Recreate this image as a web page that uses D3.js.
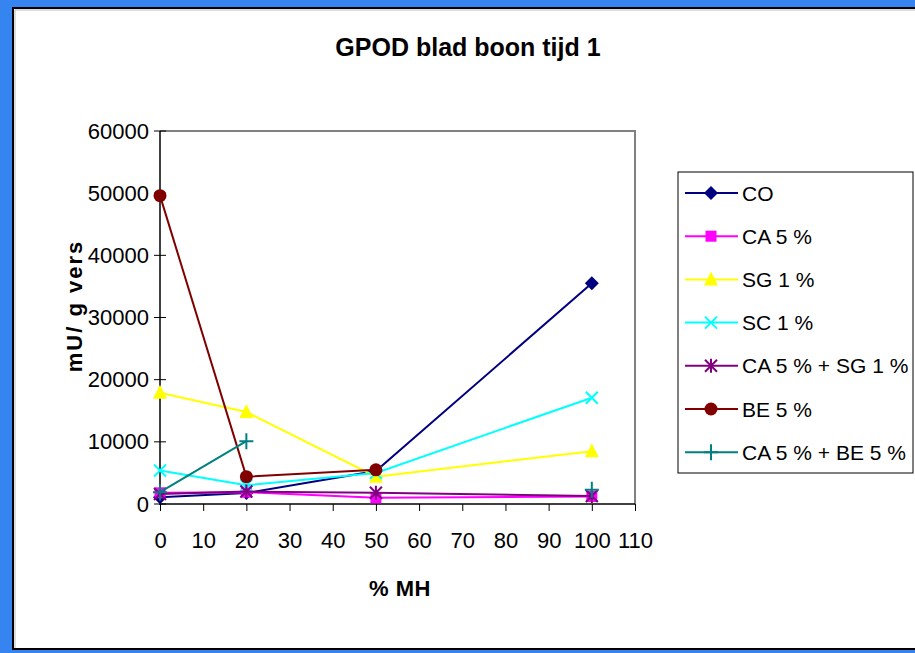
<!DOCTYPE html>
<html><head><meta charset="utf-8">
<script src="https://cdn.jsdelivr.net/npm/d3@7"></script>
<style>body{margin:0;background:#3584f0;overflow:hidden}</style>
</head><body><svg id="c" width="915" height="653"></svg>
<script>
const xValues = [0, 20, 50, 100];
const seriesNames = ["CO", "CA 5 %", "SG 1 %", "SC 1 %", "CA 5 % + SG 1 %", "BE 5 %", "CA 5 % + BE 5 %"];
const CO = [1100, 1750, 5300, 35500];
const CA5 = [1800, 1900, 1000, 1200];
const SG1 = [17900, 14800, 4400, 8500];
const SC1 = [5400, 3000, 5000, 17100];
const CA5_SG1 = [1600, 2000, 1800, 1300];
const BE5 = [49600, 4400, 5500, null];
const CA5_BE5 = [1900, 10100, null, 2300];
const seriesColors = ["#000080", "#ff00ff", "#ffff00", "#00ffff", "#800080", "#800000", "#008080"];
const seriesMarkers = ["diamond", "square", "triangle", "x", "asterisk", "circle", "plus"];
const xTicks = [0,10,20,30,40,50,60,70,80,90,100,110];
const yTicks = [0,10000,20000,30000,40000,50000,60000];
const titleText = "GPOD blad boon tijd 1";
const xTitle = "% MH";
const yTitle = "mU/ g vers";

const allValues = [CO, CA5, SG1, SC1, CA5_SG1, BE5, CA5_BE5];
const svg = d3.select("#c");
const font = "'Liberation Sans', Arial, sans-serif";

// panel
svg.append("rect").attr("x",13).attr("y",8).attr("width",920).attr("height",641)
  .attr("fill","#fff").attr("stroke","#000").attr("stroke-width",2);
svg.append("path").attr("d","M15,648 V10 H930").attr("fill","none").attr("stroke","#bbb").attr("stroke-width",1);

const x = d3.scaleLinear().domain([0,110]).range([160,635]);
const y = d3.scaleLinear().domain([0,60000]).range([504,131]);

// plot border
svg.append("path").attr("d",`M${x(0)},${y(60000)} H${x(110)} V${y(0)}`)
  .attr("fill","none").attr("stroke","#808080").attr("stroke-width",2);

// axes
const yAxis = d3.axisLeft(y).tickValues(yTicks).tickFormat(d3.format("d")).tickSize(0).tickPadding(11);
const gy = svg.append("g").attr("transform",`translate(${x(0)},0)`).call(yAxis);
gy.select(".domain").remove();
gy.selectAll("text").attr("font-family",font).attr("font-size",22).attr("fill","#000");
svg.append("g").selectAll("line").data(yTicks).join("line")
  .attr("x1",x(0)-6).attr("x2",x(0)+6).attr("y1",d=>y(d)).attr("y2",d=>y(d)).attr("stroke","#000").attr("stroke-width",1);
svg.append("line").attr("x1",x(0)).attr("x2",x(0)).attr("y1",y(60000)).attr("y2",y(0)+1).attr("stroke","#000").attr("stroke-width",1.5);

const xAxis = d3.axisBottom(x).tickValues(xTicks).tickFormat(d3.format("d")).tickSize(7).tickPadding(21);
const gx = svg.append("g").attr("transform",`translate(0,${y(0)})`).call(xAxis);
gx.select(".domain").attr("stroke","#000").attr("stroke-width",1.5).attr("d",`M${x(0)},0H${x(110)}`);
gx.selectAll(".tick line").attr("stroke","#000");
gx.selectAll("text").attr("font-family",font).attr("font-size",22).attr("fill","#000");

// titles
svg.append("text").attr("x",468).attr("y",56).attr("text-anchor","middle")
  .attr("font-family",font).attr("font-weight","bold").attr("font-size",25).text(titleText);
svg.append("text").attr("x",400).attr("y",596).attr("text-anchor","middle")
  .attr("font-family",font).attr("font-weight","bold").attr("font-size",22).attr("letter-spacing",0.5).text(xTitle);
svg.append("text").attr("transform","translate(82,306) rotate(-90)").attr("text-anchor","middle")
  .attr("font-family",font).attr("font-weight","bold").attr("font-size",22).attr("letter-spacing",2).text(yTitle);

function marker(g, type, color, cx, cy){
  const s = 6;
  if(type==="diamond") g.append("path").attr("d",`M${cx},${cy-7}L${cx+7},${cy}L${cx},${cy+7}L${cx-7},${cy}Z`).attr("fill",color);
  else if(type==="square") g.append("rect").attr("x",cx-5.5).attr("y",cy-5.5).attr("width",11).attr("height",11).attr("fill",color);
  else if(type==="triangle") g.append("path").attr("d",`M${cx},${cy-8}L${cx+7},${cy+6}L${cx-7},${cy+6}Z`).attr("fill",color);
  else if(type==="circle") g.append("circle").attr("cx",cx).attr("cy",cy).attr("r",6.5).attr("fill",color);
  else if(type==="x") g.append("path").attr("d",`M${cx-s},${cy-s}L${cx+s},${cy+s}M${cx-s},${cy+s}L${cx+s},${cy-s}`).attr("stroke",color).attr("stroke-width",2);
  else if(type==="asterisk") g.append("path").attr("d",`M${cx-s},${cy-s}L${cx+s},${cy+s}M${cx-s},${cy+s}L${cx+s},${cy-s}M${cx},${cy-s-1}L${cx},${cy+s+1}`).attr("stroke",color).attr("stroke-width",2);
  else if(type==="plus") g.append("path").attr("d",`M${cx-7},${cy}L${cx+7},${cy}M${cx},${cy-8}L${cx},${cy+8}`).attr("stroke",color).attr("stroke-width",2);
}

const line = d3.line().defined(d=>d.v!==null).x(d=>x(d.x)).y(d=>y(d.v));
allValues.forEach((vals,i)=>{
  const pts = xValues.map((xv,j)=>({x:xv, v:vals[j]}));
  const g = svg.append("g");
  g.append("path").attr("d",line(pts)).attr("fill","none").attr("stroke",seriesColors[i]).attr("stroke-width",2);
  pts.filter(p=>p.v!==null).forEach(p=>marker(g, seriesMarkers[i], seriesColors[i], x(p.x), y(p.v)));
});

// legend
const lg = svg.append("g");
lg.append("rect").attr("x",678).attr("y",172).attr("width",235).attr("height",301)
  .attr("fill","#fff").attr("stroke","#000").attr("stroke-width",1);
seriesNames.forEach((n,i)=>{
  const cy = 193 + i*43.2;
  lg.append("line").attr("x1",685).attr("x2",738).attr("y1",cy).attr("y2",cy).attr("stroke",seriesColors[i]).attr("stroke-width",2);
  marker(lg, seriesMarkers[i], seriesColors[i], 711, cy);
  lg.append("text").attr("x",742).attr("y",cy+7.5).attr("font-family",font).attr("font-size",21).text(n);
});
</script></body></html>
